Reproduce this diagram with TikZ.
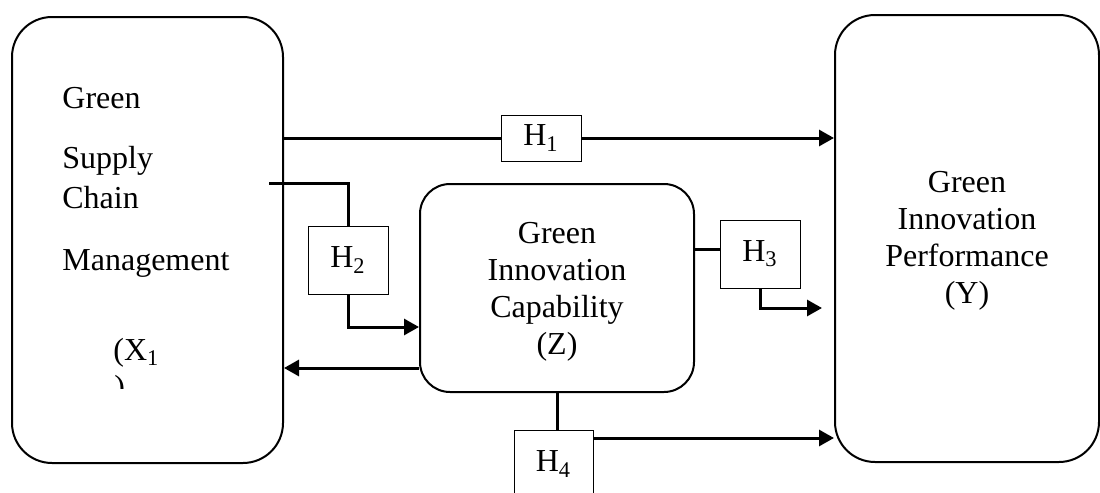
\documentclass[tikz,border=0pt]{standalone}
\usepackage{fontspec}
\setmainfont{Liberation Serif}
\usetikzlibrary{arrows.meta}

\begin{document}
\begin{tikzpicture}[x=0.5pt, y=-0.5pt,
  every node/.style={font=\fontsize{16}{18.5}\selectfont},
  bigbox/.style={draw, line width=1pt, rounded corners=20pt, inner sep=0pt},
  hbox/.style={draw, fill=white, line width=0.5pt, minimum width=40pt, minimum height=34pt, inner sep=0pt},
  ltext/.style={anchor=base west, inner sep=0pt},
  link/.style={line width=1.5pt},
  arr/.style={line width=1.5pt, -{Triangle[length=7.5pt,width=8pt]}}]
\clip (0,0) rectangle (1100,493);
% the three blocks
\node[bigbox, minimum width=135.5pt, minimum height=223pt] (X) at (147.5,240) {};
\node[bigbox, rounded corners=15pt, minimum width=137pt, minimum height=104pt] (Z) at (557,288) {};
\node[bigbox, minimum width=132pt, minimum height=223.5pt] (Y) at (967,238.5) {};
\node[align=center] (Zlab) at (557,292) {Green\\Innovation\\Capability\\(Z)};
\node[align=center] (Ylab) at (967,241) {Green\\Innovation\\Performance\\(Y)};
% text of the left block
\foreach \t/\y in {Green/108, Supply/168, Chain/208, Management/270}
  \node[ltext] (xl\y) at (62,\y) {\t};
\node[ltext] (xsym) at (113,360) {(X\textsubscript{1}};
\begin{scope}
\clip (100,370) rectangle (140,388);
\node[ltext] (xpar) at (114,397) {)};
\end{scope}
% hypotheses
\node[hbox, minimum height=23pt] (H1) at (541,138) {H\textsubscript{1}};
\node[hbox] (H2) at (348,260) {H\textsubscript{2}};
\node[hbox] (H3) at (760,254) {H\textsubscript{3}};
\node[hbox, minimum width=39.5pt] (H4) at (553.5,464) {H\textsubscript{4}};
\coordinate (h2in) at (269,183);
\coordinate (h3out) at (822,308);
% connectors
\draw[link] (X.east |- H1) -- (H1.west);
\draw[arr] (H1.east) -- (Y.west |- H1);
\draw[link] (h2in) -| (H2.north);
\draw[arr] (H2.south) |- (Z.west |- 0,327);
\draw[arr] (Z.west |- 0,368) -- (X.east |- 0,368);
\draw[link] (Z.east |- 0,249) -- (H3.west |- 0,249);
\draw[arr] (H3.south) |- (h3out);
\draw[link] (Z.south) -- (Z.south |- H4.north);
\draw[arr] (H4.east |- 0,438) -- (Y.west |- 0,438);
\end{tikzpicture}
\end{document}
